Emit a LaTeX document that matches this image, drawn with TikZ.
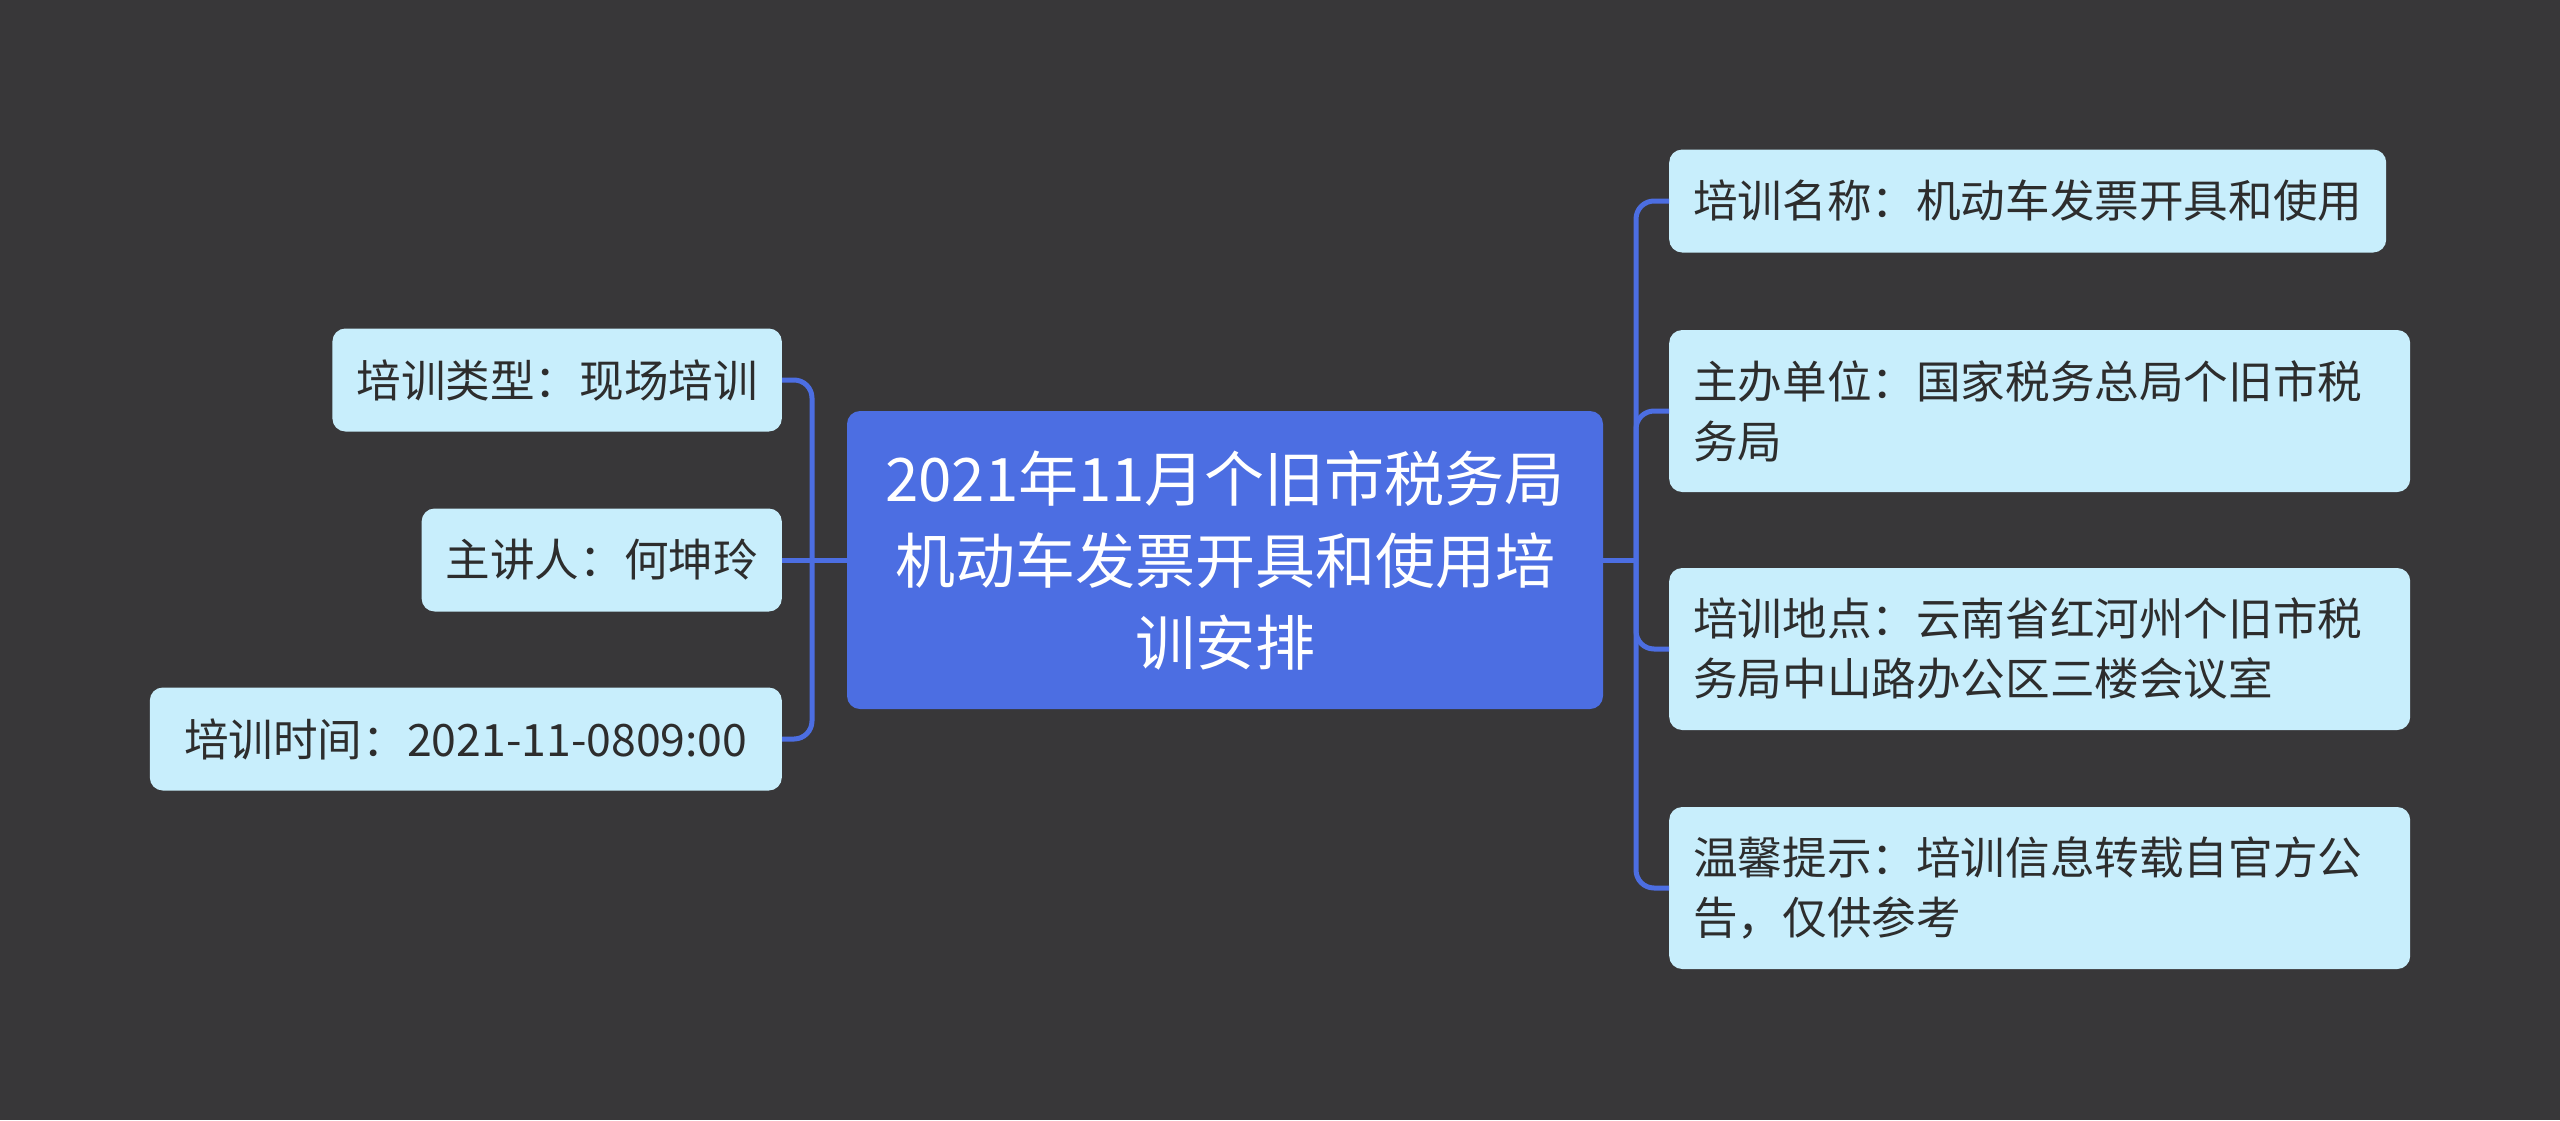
\documentclass[tikz,border=0pt]{standalone}
\usepackage{fontspec}
\newfontfamily\cjk{Noto Sans CJK SC}
\definecolor{bgc}{RGB}{56,55,57}
\definecolor{mainc}{RGB}{76,110,226}
\definecolor{leafc}{RGB}{200,238,252}
\definecolor{leaftext}{RGB}{45,45,45}
\begin{document}
\begin{tikzpicture}[x=1pt,y=-1pt,
  leaf/.style={fill=leafc, rounded corners=13pt, text=leaftext, inner xsep=24pt, inner ysep=0pt,
    font=\cjk\fontsize{44.6}{60}\selectfont, align=left},
  center/.style={fill=mainc, rounded corners=13pt, text=white, inner sep=0pt,
    font=\cjk\fontsize{60}{82}\selectfont, align=center, minimum width=756pt, minimum height=298pt},
  conn/.style={draw=mainc, line width=5pt, rounded corners=18pt}]
\useasboundingbox[fill=bgc] (0,0) rectangle (2560,1120);
\node[center] (c) at (1225,560) {2021年11月个旧市税务局\\机动车发票开具和使用培\\训安排};
% left
\node[leaf, anchor=east, minimum width=447pt, minimum height=103pt] (l1) at (782,380) {培训类型：现场培训};
\node[leaf, anchor=east, minimum width=357pt, minimum height=103pt] (l2) at (782,560) {主讲人：何坤玲};
\node[leaf, anchor=east, minimum width=632pt, minimum height=103pt] (l3) at (782,739) {培训时间：2021-11-0809:00};
% right
\node[leaf, anchor=west, minimum width=717pt, minimum height=103pt] (r1) at (1669,201) {培训名称：机动车发票开具和使用};
\node[leaf, anchor=west, minimum width=741pt, minimum height=162pt, text width=693pt] (r2) at (1669,411) {主办单位：国家税务总局个旧市税\\务局};
\node[leaf, anchor=west, minimum width=741pt, minimum height=162pt, text width=693pt] (r3) at (1669,649) {培训地点：云南省红河州个旧市税\\务局中山路办公区三楼会议室};
\node[leaf, anchor=west, minimum width=741pt, minimum height=162pt, text width=693pt] (r4) at (1669,888) {温馨提示：培训信息转载自官方公\\告，仅供参考};
\coordinate (lj) at (812,560);
\coordinate (rj) at (1636,560);
\draw[conn] (c.west) -- (lj);
\draw[conn] (lj) |- (l1.east);
\draw[conn] (lj) -- (l2.east);
\draw[conn] (lj) |- (l3.east);
\draw[conn] (c.east) -- (rj);
\draw[conn] (rj) |- (r1.west);
\draw[conn] (rj) |- (r2.west);
\draw[conn] (rj) |- (r3.west);
\draw[conn] (rj) |- (r4.west);
\end{tikzpicture}
\end{document}
